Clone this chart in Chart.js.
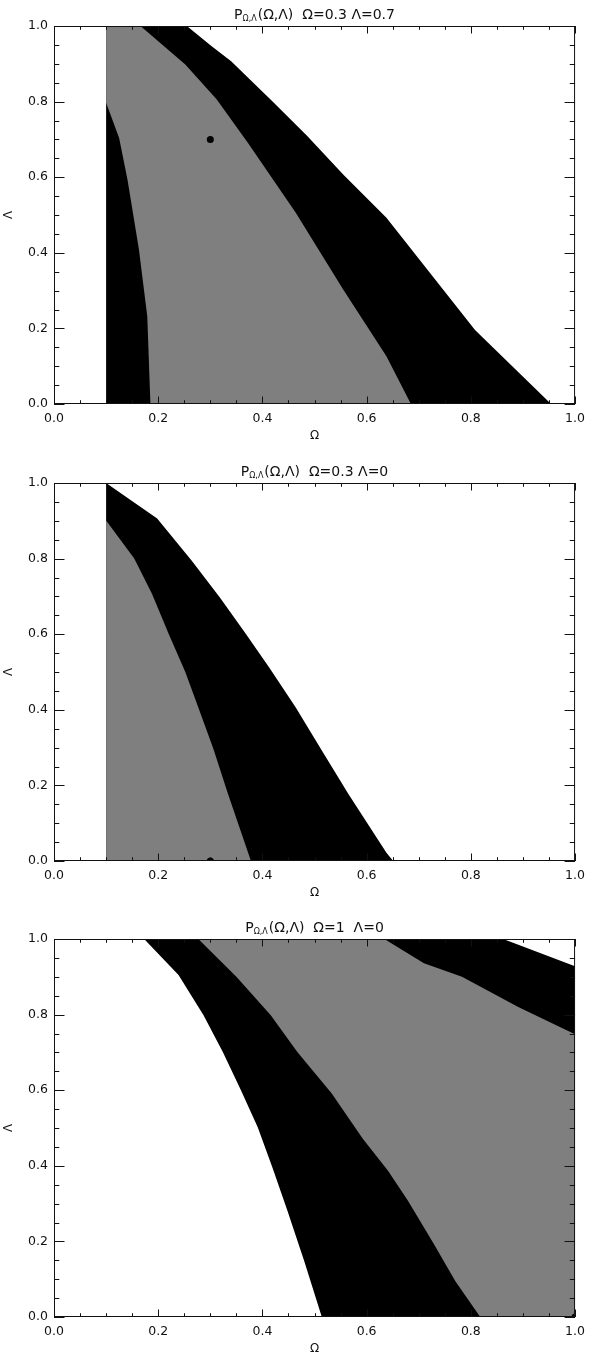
<!DOCTYPE html>
<html>
<head>
<meta charset="utf-8">
<script src="https://cdn.jsdelivr.net/npm/chart.js@4.4.1/dist/chart.umd.min.js"></script>
<style>
  html, body { margin: 0; padding: 0; background: #fff; }
  #wrap { position: relative; width: 592px; height: 1352px; overflow: hidden; }
  canvas { position: absolute; left: 0; }
</style>
</head>
<body>
<div id="wrap">
  <canvas id="c1" width="592" height="451" style="top:0px"></canvas>
  <canvas id="c2" width="592" height="451" style="top:457px"></canvas>
  <canvas id="c3" width="592" height="451" style="top:913px"></canvas>
</div>
<script>
// tick positions and labels (same on both axes)
const axisTicks = [0, 0.2, 0.4, 0.6, 0.8, 1.0];
const axisTickLabels = ["0.0", "0.2", "0.4", "0.6", "0.8", "1.0"];

// panel 1: true model Omega=0.3, Lambda=0.7
const p1Title = "(Ω,Λ)  Ω=0.3 Λ=0.7";
const p1OuterOmega  = [0.1, 0.1, 0.255, 0.302, 0.340, 0.419, 0.486, 0.555, 0.638, 0.808, 0.954];
const p1OuterLambda = [0.0, 1.0, 1.0,   0.947, 0.907, 0.801, 0.709, 0.607, 0.493, 0.196, 0.0];
const p1InnerOmega  = [0.1, 0.166, 0.252, 0.312, 0.372, 0.464, 0.555, 0.638, 0.685, 0.185, 0.179, 0.163, 0.141, 0.125, 0.1];
const p1InnerLambda = [1.0, 1.0,   0.898, 0.806, 0.691, 0.506, 0.303, 0.126, 0.0,   0.0,   0.232, 0.409, 0.594, 0.704, 0.797];
const p1TrueOmega = [0.3];
const p1TrueLambda = [0.7];

// panel 2: Omega=0.3, Lambda=0
const p2Title = "(Ω,Λ)  Ω=0.3 Λ=0";
const p2OuterOmega  = [0.1, 0.198, 0.264, 0.318, 0.366, 0.413, 0.464, 0.514, 0.565, 0.638, 0.651, 0.1];
const p2OuterLambda = [1.0, 0.906, 0.795, 0.698, 0.605, 0.512, 0.406, 0.292, 0.177, 0.022, 0.0,   0.0];
const p2InnerOmega  = [0.1,   0.154, 0.188, 0.220, 0.252, 0.277, 0.306, 0.334, 0.378, 0.1];
const p2InnerLambda = [0.901, 0.8,   0.707, 0.601, 0.5,   0.406, 0.296, 0.177, 0.0,   0.0];
const p2TrueOmega = [0.3];
const p2TrueLambda = [0.0];

// panel 3: Omega=1, Lambda=0
const p3Title = "(Ω,Λ)  Ω=1  Λ=0";
const p3OuterOmega  = [0.173, 0.239, 0.287, 0.324, 0.359, 0.391, 0.419, 0.448, 0.480, 0.514, 1.0, 1.0,   0.862];
const p3OuterLambda = [1.0,   0.905, 0.798, 0.701, 0.599, 0.502, 0.396, 0.281, 0.149, 0.0,   0.0, 0.928, 1.0];
const p3InnerOmega  = [0.277, 0.350, 0.416, 0.467, 0.533, 0.593, 0.641, 0.679, 0.729, 0.770, 0.818, 1.0, 1.0,   0.891, 0.783, 0.710, 0.634];
const p3InnerLambda = [1.0,   0.9,   0.798, 0.701, 0.591, 0.471, 0.387, 0.308, 0.193, 0.095, 0.0,   0.0, 0.748, 0.820, 0.9,   0.936, 1.0];
const p3TrueOmega = [1.0];
const p3TrueLambda = [0.0];

const FONT = "'DejaVu Sans', sans-serif";

function points(om, la) {
  return om.map((o, i) => ({ x: o, y: la[i] }));
}

function region(om, la, color, order) {
  return {
    data: points(om, la),
    showLine: true,
    fill: "shape",
    backgroundColor: color,
    borderColor: "rgba(0,0,0,0)",
    borderWidth: 0,
    pointRadius: 0,
    tension: 0,
    order: order,
    clip: 0,
  };
}

function marker(om, la) {
  return {
    data: points(om, la),
    showLine: false,
    pointRadius: 3.5,
    pointBackgroundColor: "#000",
    pointBorderWidth: 0,
    order: 0,
    clip: 0,
  };
}

// box with inward major/minor ticks on all four sides
const frame = {
  id: "frame",
  afterDatasetsDraw(chart) {
    const { ctx, chartArea: a, scales: { x, y } } = chart;
    ctx.save();
    ctx.strokeStyle = "#111";
    ctx.lineWidth = 1;
    ctx.strokeRect(a.left + 0.5, a.top + 0.5, a.right - a.left - 1, a.bottom - a.top - 1);
    ctx.beginPath();
    for (let i = 0; i <= 20; i++) {
      const v = i / 20;
      const major = i % 4 === 0;
      const px = Math.round(x.getPixelForValue(v)) + 0.5;
      const lx = major ? 7.5 : 3.8;
      ctx.moveTo(px, a.bottom); ctx.lineTo(px, a.bottom - lx);
      ctx.moveTo(px, a.top); ctx.lineTo(px, a.top + lx);
      const py = Math.round(y.getPixelForValue(v)) + 0.5;
      const ly = major ? 10.5 : 5.3;
      ctx.moveTo(a.left, py); ctx.lineTo(a.left + ly, py);
      ctx.moveTo(a.right, py); ctx.lineTo(a.right - ly, py);
    }
    ctx.stroke();
    ctx.restore();
  },
};

// title with the subscripted P_{Omega,Lambda}
const panelTitle = {
  id: "panelTitle",
  afterDraw(chart, args, opts) {
    const { ctx, chartArea: a } = chart;
    const big = "14px " + FONT;
    const small = "8px " + FONT;
    ctx.save();
    ctx.fillStyle = "#111";
    ctx.textBaseline = "alphabetic";
    ctx.font = big;
    const w1 = ctx.measureText("P").width;
    const w3 = ctx.measureText(opts.text).width;
    ctx.font = small;
    const w2 = ctx.measureText("Ω,Λ").width;
    let xx = (a.left + a.right) / 2 - (w1 + w2 + 1 + w3) / 2;
    const base = a.top - 7;
    ctx.font = big;
    ctx.fillText("P", xx, base);
    xx += w1;
    ctx.font = small;
    ctx.fillText("Ω,Λ", xx, base + 2);
    xx += w2 + 1;
    ctx.font = big;
    ctx.fillText(opts.text, xx, base);
    ctx.restore();
  },
};

function axis(title, isX) {
  return {
    type: "linear",
    min: 0,
    max: 1,
    afterBuildTicks: (s) => { s.ticks = axisTicks.map((v) => ({ value: v })); },
    afterFit: (s) => { if (isX) s.height = 47; else s.width = 54; },
    ticks: {
      callback: (v, i) => axisTickLabels[i],
      padding: isX ? 7 : 6,
      color: "#111",
      font: { family: FONT, size: 12.5 },
      maxRotation: 0,
      autoSkip: false,
    },
    grid: { display: false, drawTicks: false },
    border: { display: false },
    title: {
      display: true,
      text: title,
      color: "#111",
      font: { family: FONT, size: 12 },
      padding: isX ? { top: 0, bottom: 8 } : { top: 2, bottom: 0 },
    },
  };
}

function makePanel(id, titleText, outerOm, outerLa, innerOm, innerLa, trueOm, trueLa) {
  new Chart(document.getElementById(id), {
    type: "scatter",
    data: {
      datasets: [
        marker(trueOm, trueLa),
        region(innerOm, innerLa, "#7f7f7f", 1),
        region(outerOm, outerLa, "#000000", 2),
      ],
    },
    options: {
      responsive: false,
      animation: false,
      events: [],
      layout: { padding: { top: 26, right: 11, left: 0, bottom: 0 } },
      scales: {
        x: axis("Ω", true),
        y: axis("Λ", false),
      },
      plugins: {
        legend: { display: false },
        tooltip: { enabled: false },
        panelTitle: { text: titleText },
      },
    },
    plugins: [frame, panelTitle],
  });
}

makePanel("c1", p1Title, p1OuterOmega, p1OuterLambda, p1InnerOmega, p1InnerLambda, p1TrueOmega, p1TrueLambda);
makePanel("c2", p2Title, p2OuterOmega, p2OuterLambda, p2InnerOmega, p2InnerLambda, p2TrueOmega, p2TrueLambda);
makePanel("c3", p3Title, p3OuterOmega, p3OuterLambda, p3InnerOmega, p3InnerLambda, p3TrueOmega, p3TrueLambda);
</script>
</body>
</html>
